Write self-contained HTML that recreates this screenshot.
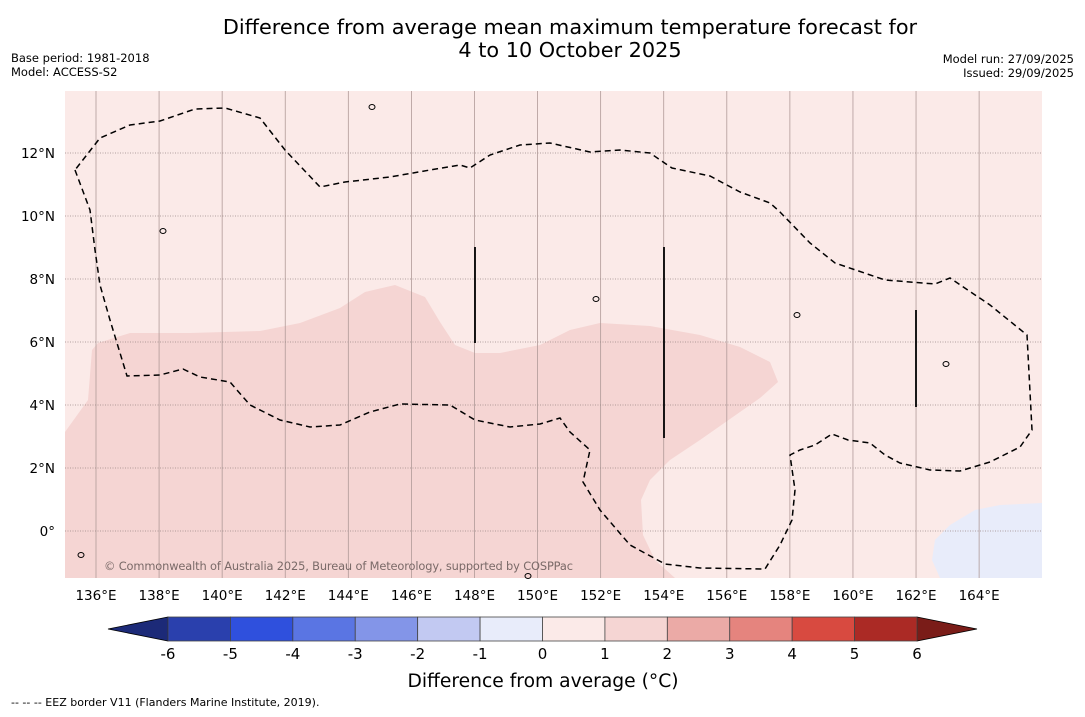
<!DOCTYPE html>
<html><head><meta charset="utf-8"><style>
body{margin:0;background:#fff;width:1085px;height:713px;overflow:hidden;font-family:"DejaVu Sans","Liberation Sans",sans-serif;}
svg text{font-family:"DejaVu Sans","Liberation Sans",sans-serif;}
</style></head><body>
<svg width="1085" height="713">
<text x="570" y="34" font-size="20.8" text-anchor="middle">Difference from average mean maximum temperature forecast for</text>
<text x="570" y="57" font-size="20.8" text-anchor="middle">4 to 10 October 2025</text>
<text x="11" y="62" font-size="11.5">Base period: 1981-2018</text>
<text x="11" y="76" font-size="11.5">Model: ACCESS-S2</text>
<text x="1074" y="63" font-size="11.5" text-anchor="end">Model run: 27/09/2025</text>
<text x="1074" y="77" font-size="11.5" text-anchor="end">Issued: 29/09/2025</text>
<g id="map"></g>
<g id="cbar"></g>
<text x="543" y="687" font-size="18.7" text-anchor="middle">Difference from average (°C)</text>
<text x="11" y="706" font-size="11">--  --  -- EEZ border V11 (Flanders Marine Institute, 2019).</text>
</svg>
<script>
const lonTicks=[136,138,140,142,144,146,148,150,152,154,156,158,160,162,164];
const latTicks=[0,2,4,6,8,10,12];
const cbarLevels=[-6,-5,-4,-3,-2,-1,0,1,2,3,4,5,6];
const cbarColors=["#2a40ad","#2f50dd","#5a75e3","#8395e8","#c2c9f2","#e8ecfa","#fbeae8","#f5d5d3","#ebaaa6","#e5847e","#d84a40","#ab2a25"];
const NS="http://www.w3.org/2000/svg";
const X0=65,X1=1042,Y0=91,Y1=578;
const xLon=l=>96+(l-136)*31.54;
const yLat=l=>531-l*31.5;
function mk(t,a,p){const e=document.createElementNS(NS,t);for(const k in a)e.setAttribute(k,a[k]);p.appendChild(e);return e;}
const map=document.getElementById('map');
const bg=mk('rect',{x:X0,y:Y0,width:X1-X0,height:Y1-Y0,fill:'#fbeae8'},map);


const warm=mk('path',{fill:'#f5d5d3',d:'M65,432 L88,400 92,350 98,343 130,333 190,333 260,331 300,323 340,308 365,292 395,285 425,297 440,322 455,345 475,353 500,353 540,345 570,330 600,323 650,326 700,335 740,347 770,362 778,382 760,398 740,412 700,440 670,460 650,480 641,500 643,535 655,560 675,578 65,578Z'},map);


const cool=mk('path',{fill:'#e8ecfa',d:'M940,578 L932,560 935,540 950,525 975,510 1000,505 1042,503 1042,578Z'},map);


lonTicks.forEach(l=>{const x=xLon(l);
 const g=mk('line',{x1:x,x2:x,y1:Y0,y2:Y1,stroke:'#b09a98','stroke-width':0.8},map);
 
 
 const t=mk('text',{x:x,y:600,'font-size':13.5,'text-anchor':'middle'},map);t.textContent=l+'°E';
 
 });
latTicks.forEach(l=>{const y=yLat(l);
 const g=mk('line',{x1:X0,x2:X1,y1:y,y2:y,stroke:'#9a8886','stroke-width':0.8,'stroke-dasharray':'1,1.5'},map);
 
 
 const t=mk('text',{x:55,y:y+5,'font-size':13.5,'text-anchor':'end'},map);t.textContent=l===0?'0°':l+'°N';
 
 });
const eez=mk('path',{fill:'none',stroke:'#000','stroke-width':1.5,'stroke-dasharray':'6,4',d:'M75,170 L90,210 95,250 100,285 110,320 127,376 160,375 183,369 200,377 230,382 250,405 280,420 310,427 340,425 370,412 400,404 450,405 475,420 510,427 540,424 560,418 570,432 590,450 583,482 600,510 630,545 665,564 700,568 765,569 780,545 792,520 795,490 790,455 800,450 815,445 832,434 848,440 870,443 885,455 900,463 930,470 960,471 990,462 1020,447 1032,430 1027,335 990,305 950,278 935,284 885,280 835,263 810,243 780,212 770,203 740,192 710,176 672,168 650,153 620,150 590,152 550,143 520,145 490,155 470,168 460,165 430,170 390,177 345,182 320,187 285,150 260,118 225,108 195,109 160,121 130,125 100,138Z'},map);


[[475,247,343],[664,247,438],[916,310,407]].forEach(s=>{const l=mk('line',{x1:s[0],x2:s[0],y1:s[1],y2:s[2],stroke:'#000','stroke-width':1.8},map);
 
 });
[[372,107],[163,231],[596,299],[797,315],[946,364],[81,555],[528,576]].forEach(p=>{const c=mk('ellipse',{cx:p[0],cy:p[1],rx:3,ry:2.5,fill:'none',stroke:'#000','stroke-width':1},map);
 
 });
const wm=mk('text',{x:104,y:570,'font-size':11.4,fill:'#7a6a68',textLength:469},map);
wm.textContent='© Commonwealth of Australia 2025, Bureau of Meteorology, supported by COSPPac';


const cb=document.getElementById('cbar');
const CX0=168,CX1=917,CY=617,CH=24;
const cx=v=>CX0+(v-cbarLevels[0])/(cbarLevels[cbarLevels.length-1]-cbarLevels[0])*(CX1-CX0);
const lt=mk('path',{d:`M${CX0},${CY} L108,${CY+CH/2} L${CX0},${CY+CH}Z`,fill:'#1c2a78',stroke:'#000','stroke-width':0.8},cb);


const rt=mk('path',{d:`M${CX1},${CY} L977,${CY+CH/2} L${CX1},${CY+CH}Z`,fill:'#7a1c18',stroke:'#000','stroke-width':0.8},cb);


cbarColors.forEach((c,i)=>{const r=mk('rect',{x:cx(cbarLevels[i]),y:CY,width:cx(cbarLevels[i+1])-cx(cbarLevels[i]),height:CH,fill:c,stroke:'#444','stroke-width':0.8},cb);
 
 });
cbarLevels.forEach(v=>{const t=mk('text',{x:cx(v),y:659,'font-size':15,'text-anchor':'middle'},cb);t.textContent=v;
 
 });
</script>
</body></html>
